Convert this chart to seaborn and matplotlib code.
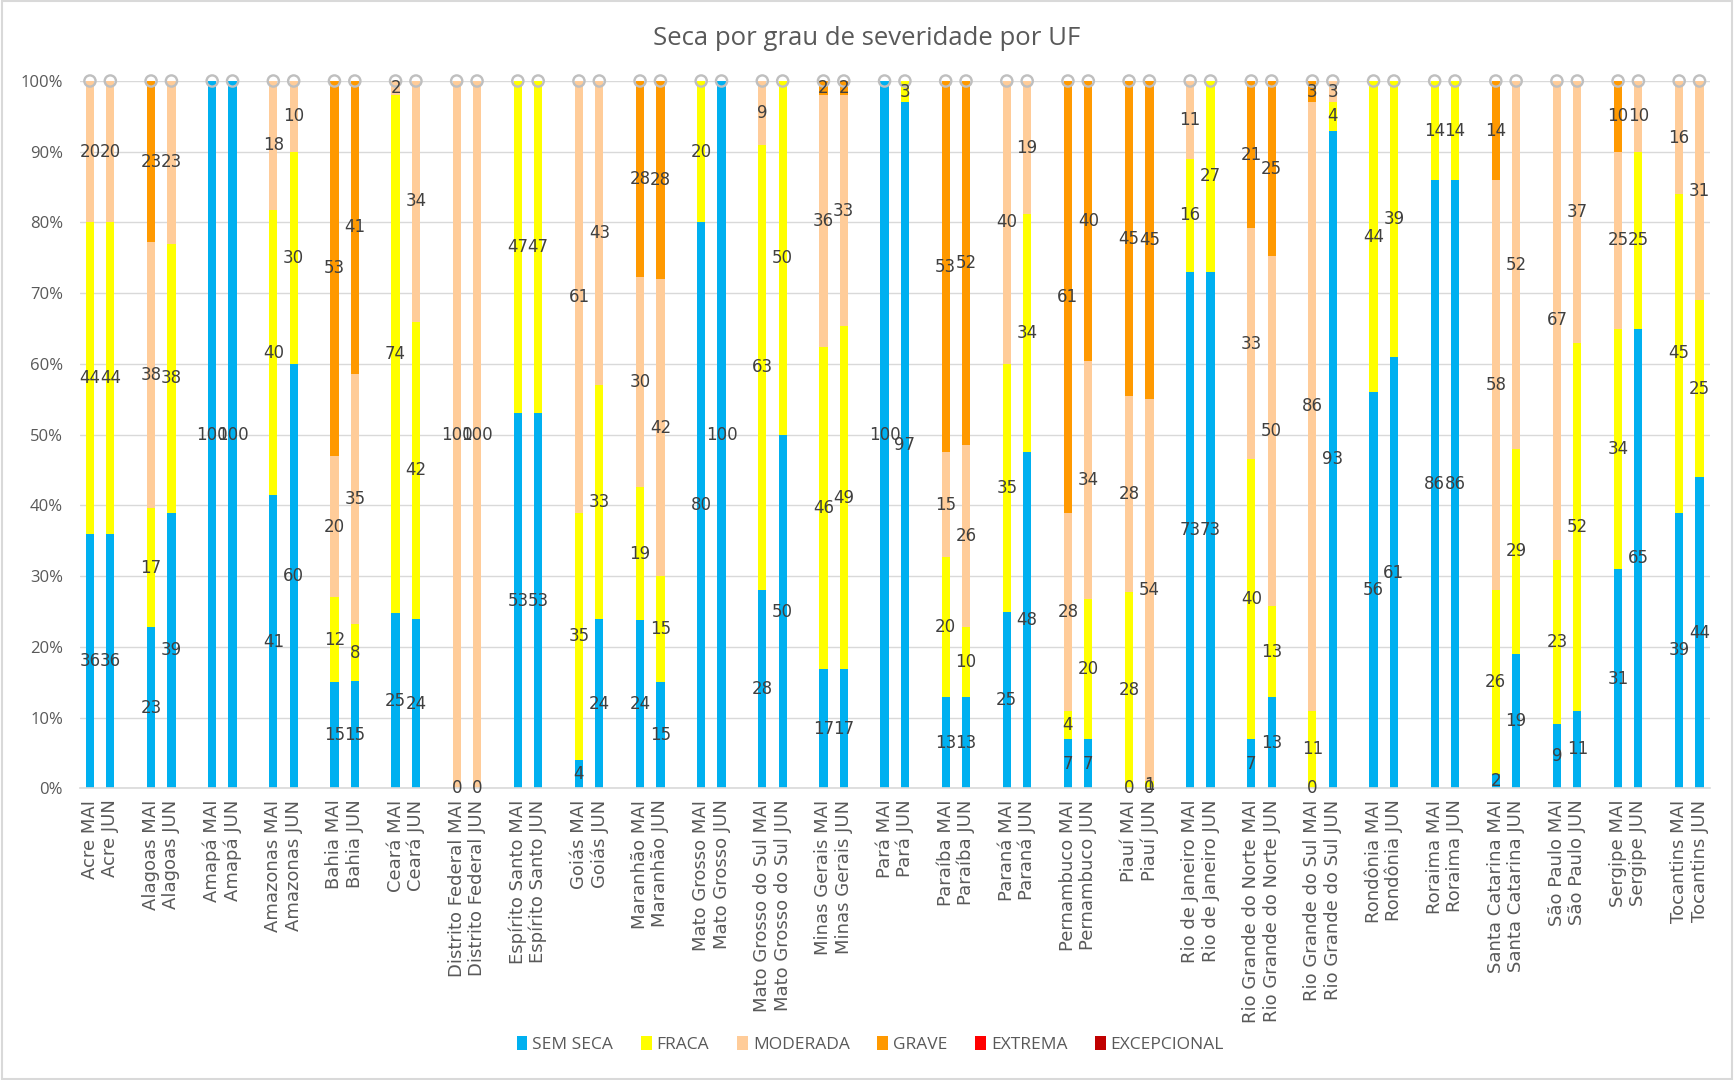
import pandas as pd
import matplotlib
matplotlib.use('Agg')
import matplotlib.pyplot as plt
import seaborn as sns
from matplotlib.patches import Patch, Rectangle

sns.set_theme(style='white')
plt.rcParams['font.family'] = ['DejaVu Sans']

# Estados (UF) e meses
states = ['Acre', 'Alagoas', 'Amapá', 'Amazonas', 'Bahia', 'Ceará', 'Distrito Federal',
          'Espírito Santo', 'Goiás', 'Maranhão', 'Mato Grosso', 'Mato Grosso do Sul',
          'Minas Gerais', 'Pará', 'Paraíba', 'Paraná', 'Pernambuco', 'Piauí',
          'Rio de Janeiro', 'Rio Grande do Norte', 'Rio Grande do Sul', 'Rondônia',
          'Roraima', 'Santa Catarina', 'São Paulo', 'Sergipe', 'Tocantins']
months = ['MAI', 'JUN']
levels = ['SEM SECA', 'FRACA', 'MODERADA', 'GRAVE', 'EXTREMA', 'EXCEPCIONAL']
colors = ['#00B0F0', '#FFFF00', '#FFCC99', '#FF9900', '#FF0000', '#C00000']

# valores (%)
sem_mai = [36, 23, 100, 41, 15, 25, 0, 53, 4, 24, 80, 28, 17, 100, 13, 25, 7, 0, 73, 7, 0, 56, 86, 2, 9, 31, 39]
sem_jun = [36, 39, 100, 60, 15, 24, 0, 53, 24, 15, 100, 50, 17, 97, 13, 48, 7, 0, 73, 13, 93, 61, 86, 19, 11, 65, 44]
fraca_mai = [44, 17, 0, 40, 12, 74, 0, 47, 35, 19, 20, 63, 46, 0, 20, 35, 4, 28, 16, 40, 11, 44, 14, 26, 23, 34, 45]
fraca_jun = [44, 38, 0, 30, 8, 42, 0, 47, 33, 15, 0, 50, 49, 3, 10, 34, 20, 1, 27, 13, 4, 39, 14, 29, 52, 25, 25]
moderada_mai = [20, 38, 0, 18, 20, 2, 100, 0, 61, 30, 0, 9, 36, 0, 15, 40, 28, 28, 11, 33, 86, 0, 0, 58, 67, 25, 16]
moderada_jun = [20, 23, 0, 10, 35, 34, 100, 0, 43, 42, 0, 0, 33, 0, 26, 19, 34, 54, 0, 50, 3, 0, 0, 52, 37, 10, 31]
grave_mai = [0, 23, 0, 0, 53, 0, 0, 0, 0, 28, 0, 0, 2, 0, 53, 0, 61, 45, 0, 21, 3, 0, 0, 14, 0, 10, 0]
grave_jun = [0, 0, 0, 0, 41, 0, 0, 0, 0, 28, 0, 0, 2, 0, 52, 0, 40, 45, 0, 25, 0, 0, 0, 0, 0, 0, 0]
extrema_mai = [0] * 27
extrema_jun = [0] * 27
excep_mai = [0] * 27
excep_jun = [0] * 27

series = {
    'MAI': [sem_mai, fraca_mai, moderada_mai, grave_mai, extrema_mai, excep_mai],
    'JUN': [sem_jun, fraca_jun, moderada_jun, grave_jun, extrema_jun, excep_jun],
}

# tabela longa: uma linha por barra, com um espaco vazio entre UFs
rows = []
for i, uf in enumerate(states):
    for m, mes in enumerate(months):
        row = {'pos': 3 * i + m, 'label': f'{uf} {mes}'}
        for k, lev in enumerate(levels):
            row[lev] = series[mes][k][i]
        rows.append(row)
df = pd.DataFrame(rows)

total = df[levels].sum(axis=1)
cum = 0
for lev in levels:
    cum = cum + df[lev] / total * 100
    df['cum_' + lev] = cum

fig = plt.figure(figsize=(17.34, 10.8), dpi=100)
ax = fig.add_axes([0.046, 0.270, 0.940, 0.655])

# barras empilhadas 100% (sobrepostas do topo para a base)
for k in reversed(range(len(levels))):
    lev = levels[k]
    if df[lev].sum() == 0:
        continue
    sns.barplot(data=df, x='pos', y='cum_' + lev, native_scale=True, color=colors[k],
                width=0.4, errorbar=None, saturation=1, linewidth=0, ax=ax)

# rotulos de dados
for _, r in df.iterrows():
    base = 0
    for k, lev in enumerate(levels[:4]):
        top = r['cum_' + lev]
        if r[lev] > 0 or k == 0:
            ax.text(r['pos'], (base + top) / 2, str(int(r[lev])), ha='center', va='center',
                    fontsize=12, color='#404040', zorder=6)
        base = top

# rotulos zero de EXTREMA / EXCEPCIONAL no topo
ax.scatter(df['pos'], df['cum_EXCEPCIONAL'], marker='o', s=65, facecolors='none',
           edgecolors='#BFBFBF', linewidths=1.7, zorder=5, clip_on=False)

ax.set_xlim(-0.5, df['pos'].max() + 0.5)
ax.set_ylim(0, 100)
ax.set_xticks(df['pos'])
ax.set_xticklabels(df['label'], rotation=90, fontsize=13, color='#595959')
ax.set_yticks(range(0, 101, 10))
ax.set_yticklabels([f'{t}%' for t in range(0, 101, 10)], family='Open Sans',
                   fontsize=12, color='#595959')
ax.tick_params(axis='both', length=0)
ax.tick_params(axis='y', pad=12)
ax.tick_params(axis='x', pad=8)
ax.set_xlabel('')
ax.set_ylabel('')
ax.yaxis.grid(True, color='#D9D9D9', linewidth=1)
ax.set_axisbelow(True)
for s in ['top', 'right', 'left']:
    ax.spines[s].set_visible(False)
ax.spines['bottom'].set_color('#D9D9D9')
ax.spines['bottom'].set_linewidth(1.2)

fig.text(0.5, 0.964, 'Seca por grau de severidade por UF', ha='center', va='center',
         family='Open Sans', fontsize=18.5, color='#595959')

handles = [Patch(facecolor=c, edgecolor='none') for c in colors]
fig.legend(handles, levels, loc='center', bbox_to_anchor=(0.502, 0.033), ncol=6,
           frameon=False, handlelength=0.6, handleheight=0.9, handletextpad=0.3,
           columnspacing=1.6, prop={'family': 'Open Sans', 'size': 12.5},
           labelcolor='#595959')

fig.patches.append(Rectangle((0.001, 0.001), 0.998, 0.998, transform=fig.transFigure,
                             fill=False, edgecolor='#D9D9D9', linewidth=1.5))

fig.savefig('out.png', dpi=100, facecolor='white')
